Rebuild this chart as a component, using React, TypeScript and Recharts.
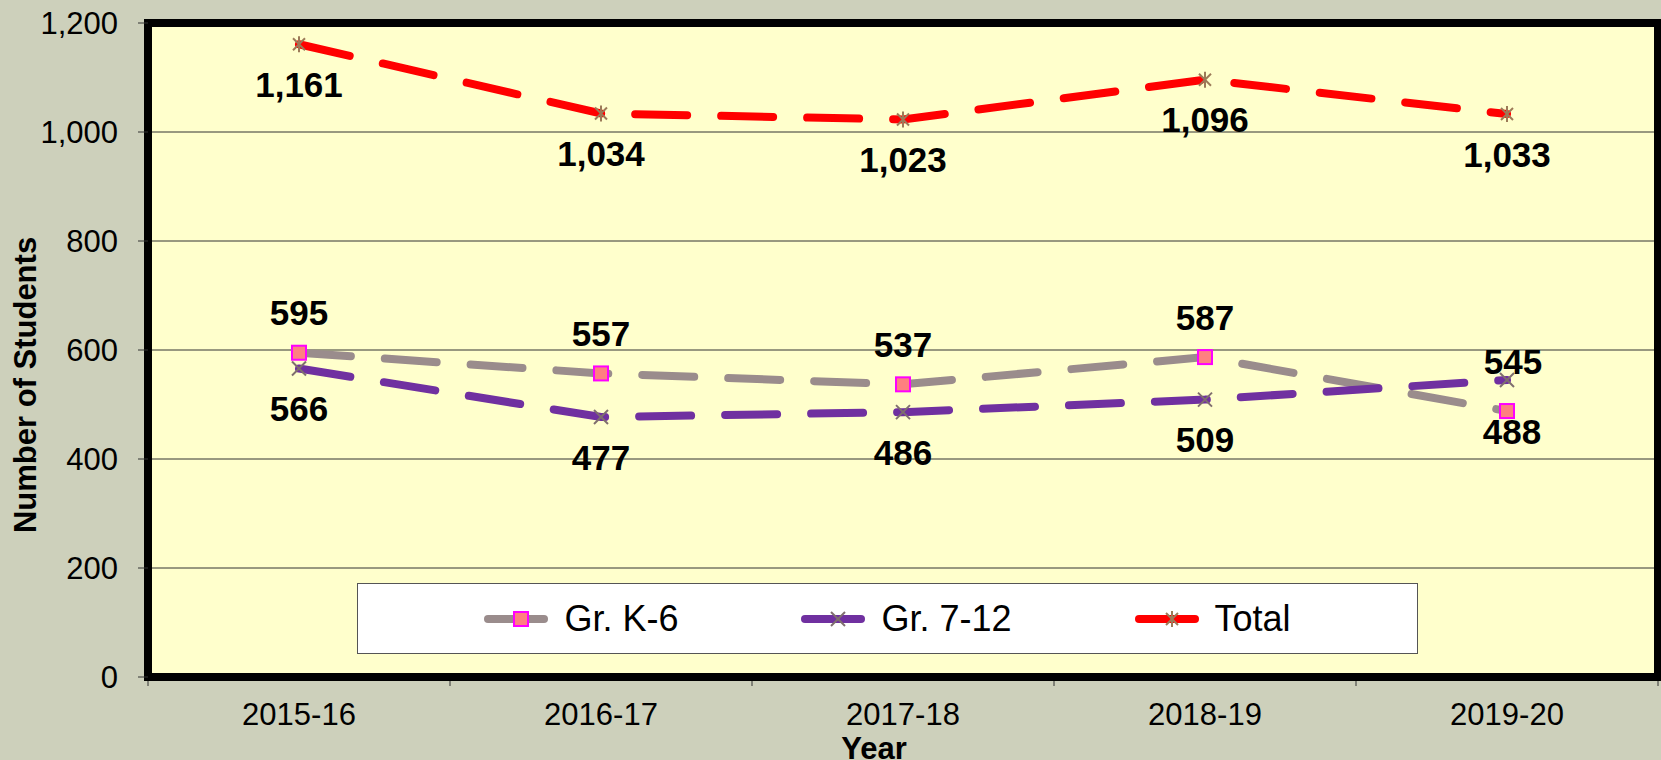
import { LineChart, Line, XAxis, YAxis, CartesianGrid, LabelList, ReferenceArea, Label } from 'recharts';

const years = ['2015-16', '2016-17', '2017-18', '2018-19', '2019-20'];
const gradesK6 = [595, 557, 537, 587, 488];
const grades712 = [566, 477, 486, 509, 545];
const totals = [1161, 1034, 1023, 1096, 1033];
const yTicks = [0, 200, 400, 600, 800, 1000, 1200];

// vertical offset of each value label from its point (negative = above)
const k6LabelDy = [-40, -40, -40, -40, 20];
const g712LabelDy = [40, 40, 40, 40, -18];
const totalLabelDy = [40, 40, 40, 40, 40];

const data = years.map((year, i) => ({
  idx: i,
  year,
  k6: gradesK6[i],
  g712: grades712[i],
  total: totals[i],
}));

// category centres plus the boundaries between categories
const xTicks = [-0.5, ...years.flatMap((_, i) => [i, i + 0.5])];

const FONT = 'Arial, "Liberation Sans", sans-serif';
const fmt = (v: number) => Number(v).toLocaleString('en-US');

const Square = ({ cx, cy }: { cx: number; cy: number }) => (
  <rect x={cx - 7} y={cy - 7} width={14} height={14} fill="#FF8080" stroke="#FF00FF" strokeWidth={2} />
);

const Cross = ({ cx, cy, color }: { cx: number; cy: number; color: string }) => (
  <g stroke={color} strokeWidth={2}>
    <line x1={cx - 7} y1={cy - 7} x2={cx + 7} y2={cy + 7} />
    <line x1={cx - 7} y1={cy + 7} x2={cx + 7} y2={cy - 7} />
  </g>
);

const Star = ({ cx, cy, color }: { cx: number; cy: number; color: string }) => (
  <g stroke={color} strokeWidth={2}>
    <line x1={cx - 6} y1={cy - 6} x2={cx + 6} y2={cy + 6} />
    <line x1={cx - 6} y1={cy + 6} x2={cx + 6} y2={cy - 6} />
    <line x1={cx} y1={cy - 8} x2={cx} y2={cy + 8} />
  </g>
);

const series = [
  { key: 'k6', name: 'Gr. K-6', color: '#9A8C8C', marker: 'square', labelDy: k6LabelDy, lastDx: 5 },
  { key: 'g712', name: 'Gr. 7-12', color: '#7030A0', marker: 'cross', labelDy: g712LabelDy, lastDx: 6 },
  { key: 'total', name: 'Total', color: '#FF0000', marker: 'star', labelDy: totalLabelDy, lastDx: 0 },
];

const drawMarker = (marker: string, cx: number, cy: number) => {
  if (marker === 'square') return <Square cx={cx} cy={cy} />;
  if (marker === 'cross') return <Cross cx={cx} cy={cy} color="#7F6E6E" />;
  return <Star cx={cx} cy={cy} color="#9C7A58" />;
};

const makeDot = (marker: string) => (props: any) => {
  const { cx, cy, index } = props;
  if (cx == null || cy == null) return <g key={`d-${index}`} />;
  return <g key={`d-${index}`}>{drawMarker(marker, cx, cy)}</g>;
};

const makeLabel = (dys: number[], lastDx: number) => (props: any) => {
  const { x, y, value, index } = props;
  return (
    <text
      x={x + (index === years.length - 1 ? lastDx : 0)}
      y={y + dys[index]}
      textAnchor="middle"
      dominantBaseline="central"
      fontFamily={FONT}
      fontWeight="bold"
      fontSize={35}
      fill="#000"
    >
      {fmt(value)}
    </text>
  );
};

// year labels at category centres, short tick marks at the boundaries
const XTick = (props: any) => {
  const { x, y, payload } = props;
  const v = payload.value;
  if (Number.isInteger(v)) {
    return (
      <text x={x} y={y} dy="0.71em" textAnchor="middle" fontFamily={FONT} fontSize={31} fill="#000">
        {years[v]}
      </text>
    );
  }
  return <line x1={x} y1={y - 22} x2={x} y2={y - 17} stroke="#333" />;
};

const YTitle = (props: any) => {
  const vb = props.viewBox;
  const x = vb.x + 25;
  const y = vb.y + vb.height / 2 + 35;
  return (
    <text x={x} y={y} transform={`rotate(-90, ${x}, ${y})`} textAnchor="middle" dominantBaseline="central"
      fontFamily={FONT} fontWeight="bold" fontSize={31} fill="#000">
      Number of Students
    </text>
  );
};

const XTitle = (props: any) => {
  const vb = props.viewBox;
  return (
    <text x={vb.x + vb.width / 2 - 29} y={vb.y + vb.height - 1} textAnchor="middle"
      fontFamily={FONT} fontWeight="bold" fontSize={31} fill="#000">
      Year
    </text>
  );
};

const ChartLegend = () => (
  <div
    style={{
      position: 'absolute',
      left: 357,
      top: 583,
      width: 1061,
      height: 71,
      boxSizing: 'border-box',
      background: '#fff',
      border: '1px solid #555',
      display: 'flex',
      alignItems: 'center',
      justifyContent: 'center',
      gap: 123,
      fontFamily: FONT,
      fontSize: 36,
      color: '#000',
    }}
  >
    {series.map((s) => (
      <div key={s.key} style={{ display: 'flex', alignItems: 'center' }}>
        <svg width={64} height={20} style={{ marginRight: 16 }}>
          <line x1={4} y1={10} x2={60} y2={10} stroke={s.color} strokeWidth={8} strokeLinecap="round" />
          {drawMarker(s.marker, 37, 10)}
        </svg>
        <span>{s.name}</span>
      </div>
    ))}
  </div>
);

export default function App() {
  return (
    <div style={{ position: 'absolute', left: 0, top: 0, width: 1661, height: 760, background: '#CDD0BB', overflow: 'hidden' }}>
      <LineChart width={1661} height={760} data={data} margin={{ top: 23, right: 3, bottom: 0, left: 0 }}>
        <CartesianGrid vertical={false} stroke="#333" fill="#FFFFCC" fillOpacity={1} />
        <XAxis
          dataKey="idx"
          type="number"
          domain={[-0.5, years.length - 0.5]}
          ticks={xTicks}
          interval={0}
          height={83}
          axisLine={false}
          tickLine={false}
          tickSize={0}
          tickMargin={26}
          tick={XTick}
        >
          <Label content={XTitle} />
        </XAxis>
        <YAxis
          width={148}
          domain={[0, 1200]}
          ticks={yTicks}
          interval={0}
          axisLine={false}
          tickSize={10}
          tickMargin={20}
          tickLine={{ stroke: '#333' }}
          tickFormatter={fmt}
          tick={{ fontSize: 31, fill: '#000', fontFamily: FONT }}
        >
          <Label content={YTitle} />
        </YAxis>
        <ReferenceArea y1={0} y2={1200} fill="none" fillOpacity={0} stroke="#000" strokeWidth={8} ifOverflow="visible" />
        {series.map((s) => (
          <Line
            key={s.key}
            type="linear"
            dataKey={s.key}
            name={s.name}
            stroke={s.color}
            strokeWidth={8}
            strokeDasharray="52 34"
            strokeLinecap="round"
            dot={makeDot(s.marker)}
            activeDot={false}
            isAnimationActive={false}
          >
            <LabelList dataKey={s.key} content={makeLabel(s.labelDy, s.lastDx)} />
          </Line>
        ))}
      </LineChart>
      <ChartLegend />
    </div>
  );
}
